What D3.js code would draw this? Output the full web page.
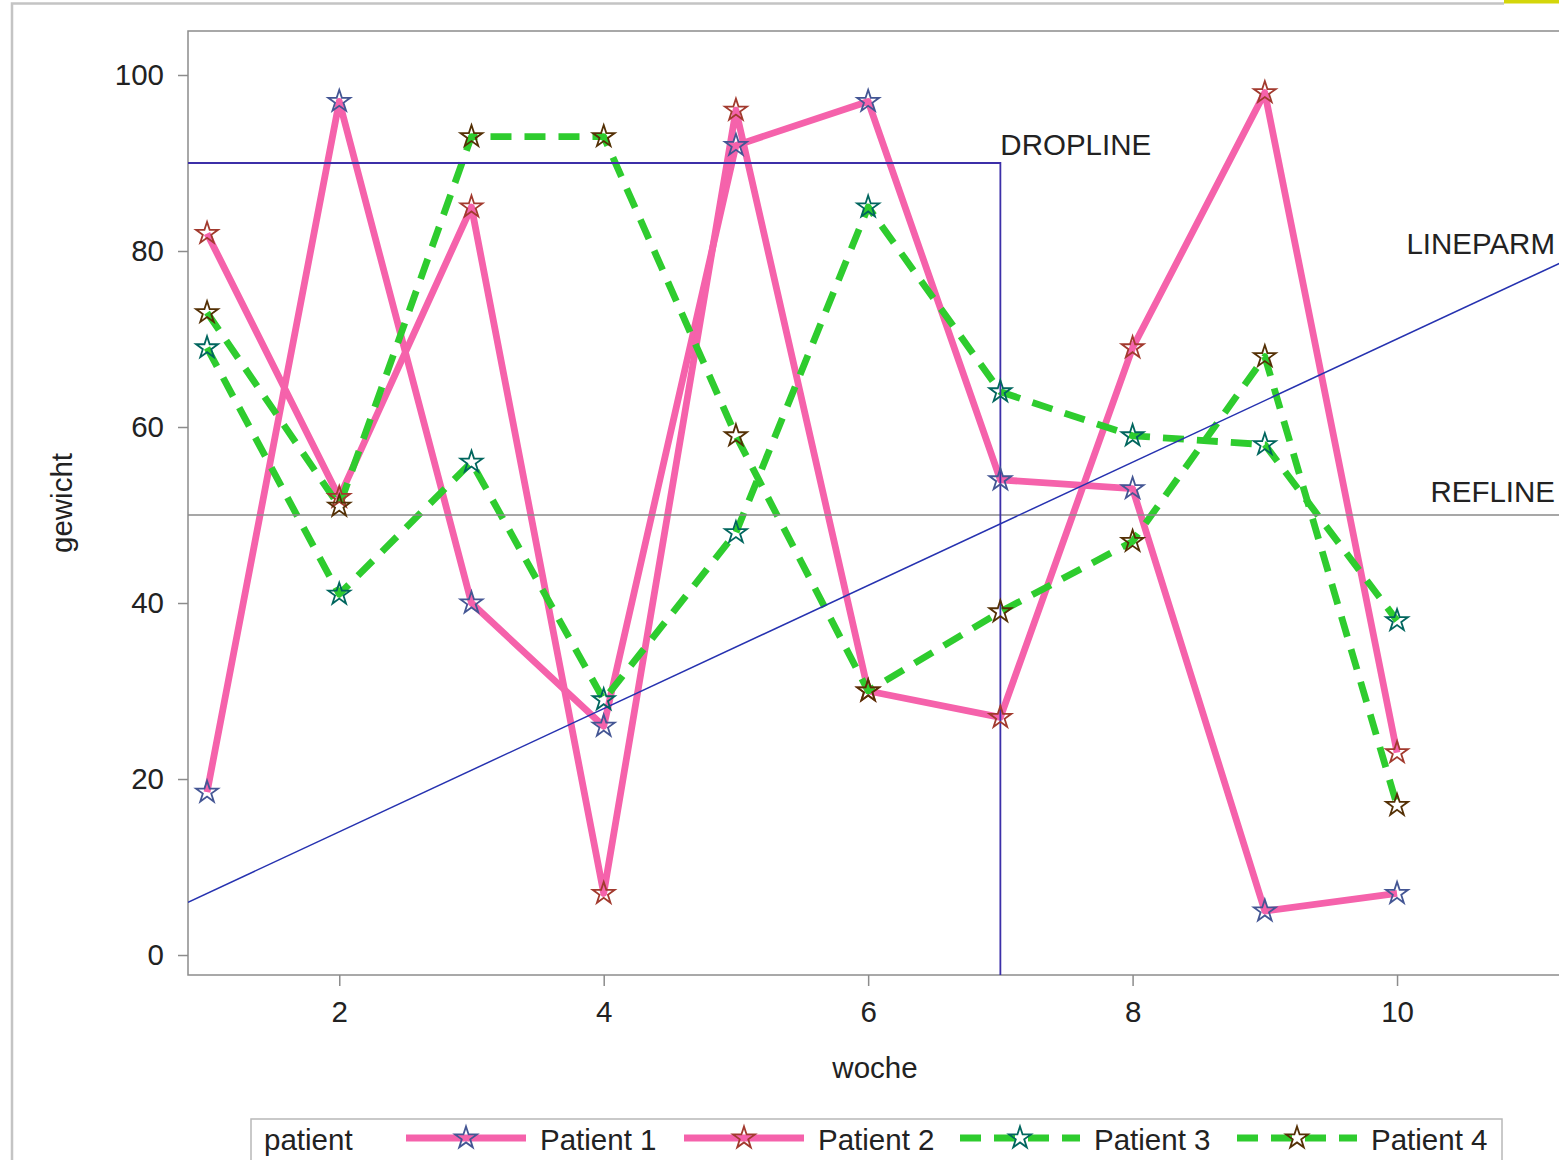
<!DOCTYPE html>
<html>
<head>
<meta charset="utf-8">
<script src="https://cdn.jsdelivr.net/npm/d3@7"></script>
<style>
  html, body { margin: 0; padding: 0; background: #ffffff; overflow: hidden; }
  svg { display: block; }
  text { font-family: "Liberation Sans", Arial, sans-serif; fill: #222; }
</style>
</head>
<body>
<svg id="chart" width="1559" height="1160"></svg>
<script>
// Weekly weight per patient
const weeks = [1, 2, 3, 4, 5, 6, 7, 8, 9, 10];
const patientNames = ["Patient 1", "Patient 2", "Patient 3", "Patient 4"];
const patient1 = [18.5, 97, 40, 26, 92, 97, 54, 53, 5, 7];
const patient2 = [82, 52, 85, 7, 96, 30, 27, 69, 98, 23];
const patient3 = [69, 41, 56, 29, 48, 85, 64, 59, 58, 38];
const patient4 = [73, 51, 93, 93, 59, 30, 39, 47, 68, 17];
const xTicks = [2, 4, 6, 8, 10];
const yTicks = [0, 20, 40, 60, 80, 100];

// Reference annotations
const refY = 50;                 // REFLINE
const dropX = 7, dropY = 90;     // DROPLINE corner
const lineIntercept = 0, lineSlope = 7; // LINEPARM

const series = [
  { name: patientNames[0], values: patient1, line: "#f562ab", marker: "#445694", dashed: false },
  { name: patientNames[1], values: patient2, line: "#f562ab", marker: "#a23a2e", dashed: false },
  { name: patientNames[2], values: patient3, line: "#2ecc2e", marker: "#01665e", dashed: true },
  { name: patientNames[3], values: patient4, line: "#2ecc2e", marker: "#543005", dashed: true }
];

const svg = d3.select("#chart");
const FONT = 29.5;

// Outer graph border and corner tab
svg.append("rect").attr("x", 1504).attr("y", 0).attr("width", 60).attr("height", 3.5).attr("fill", "#d4d60a");
svg.append("path").attr("d", "M12,1160 V3.5 H1504").attr("fill", "none").attr("stroke", "#c4c4c4").attr("stroke-width", 2.5);

// Plot area
const plot = { left: 188, top: 31, right: 1600, bottom: 975 };
const x = d3.scaleLinear().domain([0.856, 11.535]).range([plot.left, plot.right]);
const y = d3.scaleLinear().domain([-2.27, 105]).range([plot.bottom, plot.top]);

const defs = svg.append("defs");
defs.append("clipPath").attr("id", "plotClip")
  .append("rect").attr("x", plot.left).attr("y", plot.top)
  .attr("width", plot.right - plot.left).attr("height", plot.bottom - plot.top);

// Frame
svg.append("rect")
  .attr("x", plot.left).attr("y", plot.top)
  .attr("width", plot.right - plot.left).attr("height", plot.bottom - plot.top)
  .attr("fill", "none").attr("stroke", "#8c8c8c").attr("stroke-width", 1.5);

// Axes
const yAxis = d3.axisLeft(y).tickValues(yTicks).tickSize(10).tickPadding(14).tickFormat(d3.format("d"));
const gy = svg.append("g").attr("transform", `translate(${plot.left},0)`).call(yAxis);
const xAxis = d3.axisBottom(x).tickValues(xTicks).tickSize(11).tickPadding(15).tickFormat(d3.format("d"));
const gx = svg.append("g").attr("transform", `translate(0,${plot.bottom})`).call(xAxis);
[gx, gy].forEach(g => {
  g.select(".domain").remove();
  g.selectAll(".tick line").attr("stroke", "#8c8c8c").attr("stroke-width", 1.5);
  g.selectAll(".tick text").attr("font-size", FONT).style("fill", "#222");
});
gx.selectAll(".tick text").attr("dy", "0.71em");

// Axis titles
svg.append("text")
  .attr("x", 875).attr("y", 1078)
  .attr("text-anchor", "middle").attr("font-size", FONT).text("woche");
svg.append("text")
  .attr("transform", `translate(72,${(y(0) + y(100)) / 2 - 12}) rotate(-90)`)
  .attr("text-anchor", "middle").attr("font-size", FONT).text("gewicht");

const inner = svg.append("g").attr("clip-path", "url(#plotClip)");

// Series lines
const line = d3.line().x((d, i) => x(weeks[i])).y(d => y(d));
series.forEach(s => {
  inner.append("path")
    .datum(s.values)
    .attr("d", line)
    .attr("fill", "none")
    .attr("stroke", s.line)
    .attr("stroke-width", 6.8)
    .attr("stroke-linejoin", "round")
    .attr("stroke-dasharray", s.dashed ? "21,13" : null);
});

// REFLINE
inner.append("line")
  .attr("x1", plot.left).attr("x2", plot.right)
  .attr("y1", y(refY)).attr("y2", y(refY))
  .attr("stroke", "#8a8a8a").attr("stroke-width", 1.5);

// DROPLINE
inner.append("path")
  .attr("d", `M${plot.left},${y(dropY)} H${x(dropX)} V${plot.bottom}`)
  .attr("fill", "none").attr("stroke", "#3c2fa8").attr("stroke-width", 1.8);

// LINEPARM
const xl = x.domain();
inner.append("line")
  .attr("x1", x(xl[0])).attr("y1", y(lineIntercept + lineSlope * xl[0]))
  .attr("x2", x(xl[1])).attr("y2", y(lineIntercept + lineSlope * xl[1]))
  .attr("stroke", "#2632b0").attr("stroke-width", 1.5);

// Markers
const star = d3.symbol().type(d3.symbolStar).size(150);
series.forEach(s => {
  inner.selectAll(null)
    .data(s.values)
    .join("path")
    .attr("d", star)
    .attr("transform", (d, i) => `translate(${x(weeks[i])},${y(d)})`)
    .attr("fill", "none")
    .attr("stroke", s.marker)
    .attr("stroke-width", 1.8);
});

// Annotation labels
svg.append("text").attr("x", x(dropX)).attr("y", y(dropY) - 8)
  .attr("font-size", FONT).text("DROPLINE");
svg.append("text").attr("x", 1555).attr("y", 254)
  .attr("text-anchor", "end").attr("font-size", FONT).text("LINEPARM");
svg.append("text").attr("x", 1555).attr("y", y(refY) - 13)
  .attr("text-anchor", "end").attr("font-size", FONT).text("REFLINE");

// Legend
const legend = svg.append("g");
legend.append("rect")
  .attr("x", 251).attr("y", 1119).attr("width", 1251).attr("height", 60)
  .attr("fill", "none").attr("stroke", "#b8b8b8").attr("stroke-width", 1.5);
legend.append("text").attr("x", 264).attr("y", 1150).attr("font-size", FONT).text("patient");
const legendStarts = [406, 684, 960, 1237];
const swatchW = 120;
series.forEach((s, i) => {
  const x0 = legendStarts[i];
  legend.append("line")
    .attr("x1", x0).attr("x2", x0 + swatchW)
    .attr("y1", 1138).attr("y2", 1138)
    .attr("stroke", s.line).attr("stroke-width", 6.8)
    .attr("stroke-dasharray", s.dashed ? "21,13" : null);
  legend.append("path")
    .attr("d", star)
    .attr("transform", `translate(${x0 + swatchW / 2},1138)`)
    .attr("fill", "none").attr("stroke", s.marker).attr("stroke-width", 1.8);
  legend.append("text")
    .attr("x", x0 + swatchW + 14).attr("y", 1150)
    .attr("font-size", FONT).text(s.name);
});
</script>
</body>
</html>
